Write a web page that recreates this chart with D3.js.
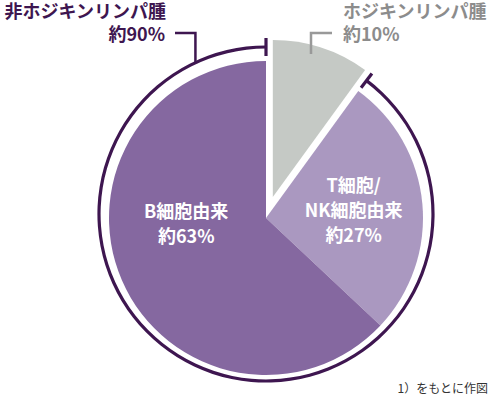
<!DOCTYPE html>
<html>
<head>
<meta charset="utf-8">
<script src="https://cdn.jsdelivr.net/npm/d3@7"></script>
<style>
  body { margin: 0; background: #fff; }
  text { font-family: "Noto Sans CJK JP", "Noto Sans", sans-serif; }
</style>
</head>
<body>
<div id="chart"></div>
<script>
// slices, clockwise from 12 o'clock
var sliceNames = ["ホジキンリンパ腫", "T細胞/NK細胞由来", "B細胞由来"];
var sliceLines = [[], ["T細胞/", "NK細胞由来", "約27%"], ["B細胞由来", "約63%"]];
var sliceValues = [10, 27, 63];
var sliceColors = ["#c5c9c5", "#aa98c0", "#8568a0"];

// outer groups
var groupNames = ["非ホジキンリンパ腫", "ホジキンリンパ腫"];
var groupValues = [90, 10];
var note = "1）をもとに作図";

var width = 490, height = 399;
var cx = 266, cy = 218, r = 157;
var explode = 22;
var dark = "#3e1650";

var svg = d3.select("#chart").append("svg")
    .attr("width", width)
    .attr("height", height);

var pie = d3.pie().sort(null).value(function(d) { return d; });
var arcs = pie(sliceValues);
var arc = d3.arc().innerRadius(0).outerRadius(r);

// pie slices; the Hodgkin slice is pulled out
var g = svg.append("g").attr("transform", "translate(" + cx + "," + cy + ")");
g.selectAll("path.slice")
    .data(arcs)
    .enter()
    .append("path")
    .attr("class", "slice")
    .attr("d", arc)
    .attr("fill", function(d, i) { return sliceColors[i]; })
    .attr("transform", function(d, i) {
        if (i !== 0) return null;
        var a = (d.startAngle + d.endAngle) / 2;
        return "translate(" + (explode * Math.sin(a)) + "," + (-explode * Math.cos(a)) + ")";
    });

// labels inside the slices
var labelPos = [null, { angle: 85, r: 88 }, { angle: 266, r: 80 }];
arcs.forEach(function(d, i) {
    if (!labelPos[i]) return;
    var a = labelPos[i].angle * Math.PI / 180;
    var x = labelPos[i].r * Math.sin(a);
    var y = -labelPos[i].r * Math.cos(a);
    var lines = sliceLines[i];
    var t = g.append("text")
        .attr("text-anchor", "middle")
        .attr("fill", "#fff")
        .attr("font-size", 18)
        .attr("font-weight", "bold");
    lines.forEach(function(s, j) {
        t.append("tspan")
            .attr("x", x)
            .attr("y", y + (j - (lines.length - 1) / 2) * 25)
            .attr("dy", "0.36em")
            .text(s);
    });
});

// outer bracket arc for non-Hodgkin
var acx = 266, acy = 214, ar = 167;
var ga = svg.append("g").attr("transform", "translate(" + acx + "," + acy + ")");
var groupStart = arcs[1].startAngle + Math.PI / 180;
var groupEnd = arcs[2].endAngle;
ga.append("path")
    .attr("d", d3.arc().innerRadius(ar - 1.6).outerRadius(ar + 1.6)
        .startAngle(groupStart).endAngle(groupEnd)())
    .attr("fill", dark);

// end ticks
[groupStart, groupEnd].forEach(function(a) {
    ga.append("line")
        .attr("x1", (ar - 9) * Math.sin(a))
        .attr("y1", -(ar - 9) * Math.cos(a))
        .attr("x2", (ar + 9) * Math.sin(a))
        .attr("y2", -(ar + 9) * Math.cos(a))
        .attr("stroke", dark)
        .attr("stroke-width", 3.2);
});

// leader for non-Hodgkin
var la = 335 * Math.PI / 180;
var lx = acx + ar * Math.sin(la), ly = acy - ar * Math.cos(la);
svg.append("path")
    .attr("d", "M" + lx + "," + ly + "V33H175")
    .attr("fill", "none")
    .attr("stroke", dark)
    .attr("stroke-width", 2.5);

svg.append("text")
    .attr("x", 166).attr("y", 18)
    .attr("text-anchor", "end")
    .attr("fill", dark)
    .attr("font-size", 18)
    .attr("font-weight", "bold")
    .text(groupNames[0]);
svg.append("text")
    .attr("x", 165).attr("y", 41)
    .attr("text-anchor", "end")
    .attr("fill", dark)
    .attr("font-size", 18)
    .attr("font-weight", "bold")
    .text("約" + groupValues[0] + "%");

// leader for Hodgkin
var grey = "#8c8c8c";
svg.append("path")
    .attr("d", "M311,54V33H332")
    .attr("fill", "none")
    .attr("stroke", "#999")
    .attr("stroke-width", 2.5);
svg.append("text")
    .attr("x", 343).attr("y", 18)
    .attr("fill", grey)
    .attr("font-size", 18)
    .attr("font-weight", "bold")
    .text(groupNames[1]);
svg.append("text")
    .attr("x", 343).attr("y", 41)
    .attr("fill", grey)
    .attr("font-size", 18)
    .attr("font-weight", "bold")
    .text("約" + groupValues[1] + "%");

// source note
svg.append("text")
    .attr("x", 488).attr("y", 393)
    .attr("text-anchor", "end")
    .attr("fill", "#333")
    .attr("font-size", 12)
    .text(note);
</script>
</body>
</html>
